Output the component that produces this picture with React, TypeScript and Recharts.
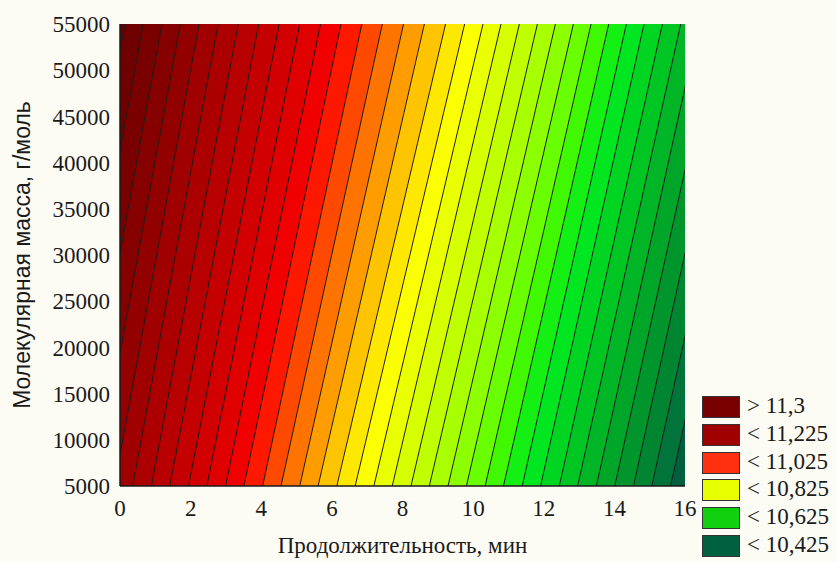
import React from 'react';
import { ComposedChart, Area, XAxis, YAxis, CartesianGrid, Label } from 'recharts';

// ---- data ----
const timeTicks = [0, 2, 4, 6, 8, 10, 12, 14, 16];
const massTicks = [5000, 10000, 15000, 20000, 25000, 30000, 35000, 40000, 45000, 50000, 55000];
const massRows = [5000, 55000];
// x (min) where each contour line crosses M = 5000 and M = 55000
const contourAt5000 = [-2.26, -1.74, -1.21, -0.69, -0.16, 0.36, 0.89, 1.41, 1.94, 2.46, 2.99, 3.51, 4.04, 4.56, 5.09, 5.61, 6.14, 6.66, 7.19, 7.71, 8.24, 8.76, 9.29, 9.81, 10.34, 10.86, 11.39, 11.91, 12.44, 12.96, 13.49, 14.01, 14.54, 15.06, 15.59];
const contourAt55000 = [0.14, 0.66, 1.19, 1.71, 2.24, 2.78, 3.35, 3.93, 4.51, 5.09, 5.68, 6.26, 6.85, 7.43, 8.03, 8.62, 9.22, 9.76, 10.28, 10.79, 11.31, 11.82, 12.33, 12.84, 13.34, 13.84, 14.34, 14.84, 15.36, 15.88, 16.4, 16.92, 17.44, 17.96, 18.48];
const legendLabels = ['> 11,3', '< 11,225', '< 11,025', '< 10,825', '< 10,625', '< 10,425'];

// ---- styles ----
const bandColors = [
  '#680000', '#700000', '#7a0000', '#860000', '#920000', '#a00000', '#ac0000', '#b80000', '#c40000',
  '#d20000', '#e00000', '#f00000', '#ff1800', '#ff4800', '#ff7400', '#ff9c00', '#ffc400', '#ffe800',
  '#fcff00', '#eaff00', '#d6ff00', '#c0ff00', '#a8ff00', '#8cff00', '#6aff00', '#40f800', '#14f014',
  '#00e620', '#00d622', '#00c624', '#00b626', '#00a628', '#00962c', '#008630', '#00743a', '#00603e',
];
const legendColors = ['#780000', '#a00000', '#ff3010', '#e8ff00', '#10d010', '#00603f'];
const BG = '#fdfcf4';
const serif = '"Liberation Serif", "Times New Roman", serif';
const sans = '"Liberation Sans", Arial, sans-serif';

const tableRows = massRows.map((m, r) => {
  const src = r === 0 ? contourAt5000 : contourAt55000;
  const row: Record<string, number> = { m };
  src.forEach((v, i) => {
    row['c' + i] = v;
  });
  return row;
});

const YTitle = (props: any) => {
  const vb = props.viewBox || { x: 0, y: 0, width: 0, height: 0 };
  const cx = vb.x + 22;
  const cy = vb.y + vb.height / 2;
  return (
    <text
      x={cx}
      y={cy}
      transform={`rotate(-90 ${cx} ${cy})`}
      textAnchor="middle"
      dominantBaseline="central"
      fontFamily={sans}
      fontSize={23}
      fill="#1a1a1a"
    >
      Молекулярная масса, г/моль
    </text>
  );
};

export default function App() {
  const order = contourAt5000.map((_, i) => i).reverse();
  return (
    <div style={{ position: 'fixed', left: 0, top: 0, width: 837, height: 562, background: BG }}>
      <ComposedChart
        width={837}
        height={562}
        data={tableRows}
        layout="vertical"
        margin={{ top: 24, right: 152, bottom: 0, left: 0 }}
      >
        <CartesianGrid fill={bandColors[bandColors.length - 1]} horizontal={false} vertical={false} />
        <XAxis
          type="number"
          domain={[0, 16]}
          ticks={timeTicks}
          allowDataOverflow
          height={76}
          tickLine={false}
          tickSize={0}
          tickMargin={14}
          axisLine={{ stroke: '#1a1a1a', strokeWidth: 1.5 }}
          tick={{ fontFamily: serif, fontSize: 23, fill: '#1a1a1a' }}
        >
          <Label
            value="Продолжительность, мин"
            position="insideBottom"
            offset={9}
            style={{ fontFamily: serif, fontSize: 23, fill: '#1a1a1a' }}
          />
        </XAxis>
        <XAxis
          xAxisId="top"
          orientation="top"
          type="number"
          domain={[0, 16]}
          height={0}
          tick={false}
          tickLine={false}
          axisLine={{ stroke: '#1a1a1a', strokeWidth: 1.5 }}
        />
        <YAxis
          type="number"
          dataKey="m"
          domain={[5000, 55000]}
          ticks={massTicks}
          reversed
          allowDataOverflow
          width={120}
          tickLine={false}
          tickSize={0}
          tickMargin={10}
          axisLine={{ stroke: '#1a1a1a', strokeWidth: 1.5 }}
          tick={{ fontFamily: serif, fontSize: 23, fill: '#1a1a1a' }}
          interval={0}
        >
          <Label content={<YTitle />} />
        </YAxis>
        <YAxis
          yAxisId="right"
          orientation="right"
          type="number"
          dataKey="m"
          domain={[5000, 55000]}
          reversed
          width={0}
          tick={false}
          tickLine={false}
          axisLine={{ stroke: '#1a1a1a', strokeWidth: 1.5 }}
        />
        {order.map((i) => (
          <Area
            key={'c' + i}
            dataKey={'c' + i}
            type="linear"
            fill={bandColors[i]}
            fillOpacity={1}
            stroke="#1c1c1c"
            strokeWidth={1}
            dot={false}
            activeDot={false}
            isAnimationActive={false}
          />
        ))}
      </ComposedChart>
      <div style={{ position: 'absolute', left: 702, top: 396 }}>
        {legendLabels.map((t, i) => (
          <div key={t} style={{ position: 'absolute', left: 0, top: i * 27.8, height: 21, whiteSpace: 'nowrap' }}>
            <div
              style={{
                position: 'absolute',
                left: 0,
                top: 0,
                width: 36,
                height: 20,
                background: legendColors[i],
                border: '1px solid #333',
              }}
            />
            <div
              style={{
                position: 'absolute',
                left: 45,
                top: -4,
                fontFamily: serif,
                fontSize: 23,
                lineHeight: '28px',
                color: '#1a1a1a',
              }}
            >
              {t}
            </div>
          </div>
        ))}
      </div>
    </div>
  );
}
